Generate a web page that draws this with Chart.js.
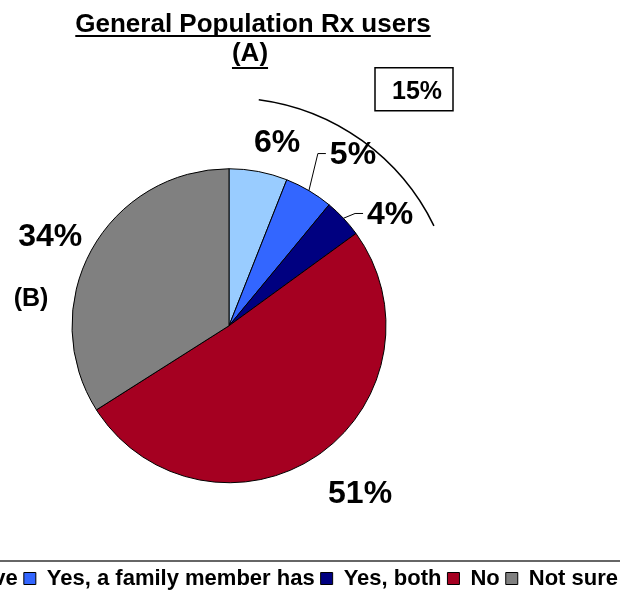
<!DOCTYPE html>
<html>
<head>
<meta charset="utf-8">
<script src="https://cdn.jsdelivr.net/npm/chart.js"></script>
<style>
  html, body { margin: 0; padding: 0; background: #fff; overflow: hidden; }
  /* canvas is wider than the window so the long legend is clipped on the left, like the original */
  #wrap { position: absolute; left: -166px; top: 0; width: 790px; height: 606px; }
</style>
</head>
<body>
<div id="wrap"><canvas id="rxPie"></canvas></div>
<script>
const categories = ["Yes, I have", "Yes, a family member has", "Yes, both", "No", "Not sure"];
const shares = [6, 5, 4, 51, 34];
const sliceColors = ["#99CCFF", "#3366FF", "#000080", "#A50021", "#808080"];
const groupedSlices = [0, 1, 2]; // the "15%" bracket (A)
const notSureSlice = 4;          // label (B)

// label placement per slice: extra radius (px) and angle shift (deg)
const labelRadius = [35, 56, 40, 54, 44];
const labelShift = [3.7, 5, 8.1, -4.2, -1.6];
const hasLeader = [false, true, true, false, false];

const FONT = "'Liberation Sans', Arial, sans-serif";
const deg = Math.PI / 180;

const annotations = {
  id: "annotations",
  afterDraw(chart) {
    const ctx = chart.ctx;
    const arcs = chart.getDatasetMeta(0).data;
    const cx = arcs[0].x, cy = arcs[0].y, R = arcs[0].outerRadius;

    ctx.save();
    ctx.fillStyle = "#000";
    ctx.strokeStyle = "#000";

    // title
    const tx = cx + 24;
    ctx.textAlign = "center";
    ctx.textBaseline = "alphabetic";
    ctx.font = "bold 26px " + FONT;
    const t1 = "General Population Rx users";
    const w1 = ctx.measureText(t1).width;
    ctx.fillText(t1, tx, 32);
    ctx.fillRect(tx - w1 / 2, 35, w1, 2);
    const t2 = "(A)";
    const w2 = ctx.measureText(t2).width;
    ctx.fillText(t2, tx - 3, 61);
    ctx.fillRect(tx - 3 - w2 / 2, 67, w2, 2);

    // percentage labels
    ctx.font = "bold 32px " + FONT;
    ctx.textBaseline = "middle";
    arcs.forEach((arc, i) => {
      const mid = (arc.startAngle + arc.endAngle) / 2;
      const a = mid + labelShift[i] * deg;
      const r = R + labelRadius[i];
      const lx = cx + Math.cos(a) * r;
      const ly = cy + Math.sin(a) * r + 3;
      const txt = shares[i] + "%";
      ctx.fillText(txt, lx, ly);
      if (hasLeader[i]) {
        const left = lx - ctx.measureText(txt).width / 2;
        ctx.lineWidth = 1;
        ctx.beginPath();
        ctx.moveTo(cx + Math.cos(mid) * R, cy + Math.sin(mid) * R);
        ctx.lineTo(left - 12, ly - 2);
        ctx.lineTo(left - 4, ly - 2);
        ctx.stroke();
      }
    });

    // (B) next to the "Not sure" slice
    const nb = arcs[notSureSlice];
    const bA = (nb.startAngle + nb.endAngle) / 2 - 20.5 * deg;
    ctx.font = "bold 25px " + FONT;
    ctx.fillText("(B)", cx + Math.cos(bA) * (R + 43), cy + Math.sin(bA) * (R + 43) + 2);

    // bracket arc over the "yes" slices
    const g0 = arcs[groupedSlices[0]].startAngle + 7.5 * deg;
    const g1 = arcs[groupedSlices[groupedSlices.length - 1]].endAngle + 10 * deg;
    ctx.lineWidth = 1.5;
    ctx.beginPath();
    ctx.arc(cx, cy, R + 71, g0, g1);
    ctx.stroke();

    // boxed total
    const total = groupedSlices.reduce((s, i) => s + shares[i], 0);
    const bx = cx + 185, by = cy - 237;
    ctx.strokeRect(bx - 39, by - 21, 78, 43);
    ctx.font = "bold 25px " + FONT;
    ctx.fillText(total + "%", bx + 3, by + 3);

    // rule above the legend
    ctx.strokeStyle = "#333";
    ctx.lineWidth = 1.5;
    ctx.beginPath();
    ctx.moveTo(0, 561);
    ctx.lineTo(chart.width, 561);
    ctx.stroke();
    ctx.restore();
  },
};

const ctx = document.getElementById("rxPie").getContext("2d");
const rxPie = new Chart(ctx, {
  type: "pie",
  data: {
    labels: categories,
    datasets: [
      {
        data: shares,
        backgroundColor: sliceColors,
        borderColor: "#000",
        borderWidth: 1,
        radius: 157,
      },
    ],
  },
  options: {
    responsive: true,
    maintainAspectRatio: false,
    animation: false,
    events: [],
    layout: { padding: { top: 90, bottom: 6.5, left: 0, right: 0 } },
    plugins: {
      tooltip: { enabled: false },
      legend: {
        position: "bottom",
        align: "end",
        labels: {
          boxWidth: 12,
          boxHeight: 12,
          padding: 6,
          color: "#000",
          font: { family: FONT, size: 22, weight: "bold" },
        },
      },
    },
  },
  plugins: [annotations],
});
</script>
</body>
</html>
